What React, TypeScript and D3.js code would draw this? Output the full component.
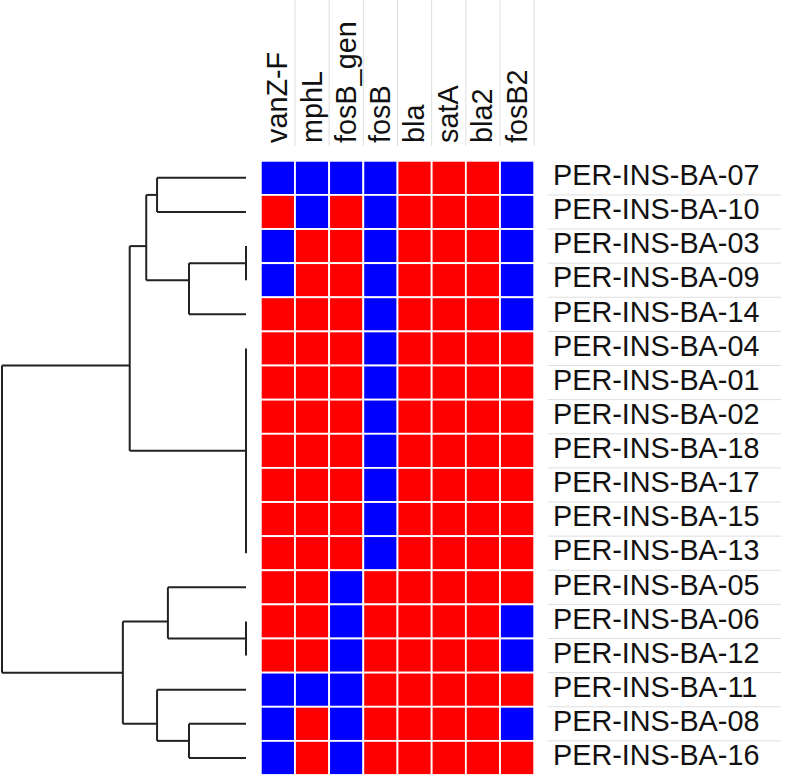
import React, { useEffect, useRef } from 'react';
import * as d3 from 'd3';

// Gene columns and isolate rows, in the plotted (clustered) order
const genes = ['vanZ-F', 'mphL', 'fosB_gen', 'fosB', 'bla', 'satA', 'bla2', 'fosB2'];

const isolates = [
  'PER-INS-BA-07', 'PER-INS-BA-10', 'PER-INS-BA-03', 'PER-INS-BA-09', 'PER-INS-BA-14',
  'PER-INS-BA-04', 'PER-INS-BA-01', 'PER-INS-BA-02', 'PER-INS-BA-18', 'PER-INS-BA-17',
  'PER-INS-BA-15', 'PER-INS-BA-13', 'PER-INS-BA-05', 'PER-INS-BA-06', 'PER-INS-BA-12',
  'PER-INS-BA-11', 'PER-INS-BA-08', 'PER-INS-BA-16',
];

// Presence (1) / absence (0) per isolate, one value per gene
const presence: number[][] = [
  [0, 0, 0, 0, 1, 1, 1, 0],
  [1, 0, 1, 0, 1, 1, 1, 0],
  [0, 1, 1, 0, 1, 1, 1, 0],
  [0, 1, 1, 0, 1, 1, 1, 0],
  [1, 1, 1, 0, 1, 1, 1, 0],
  [1, 1, 1, 0, 1, 1, 1, 1],
  [1, 1, 1, 0, 1, 1, 1, 1],
  [1, 1, 1, 0, 1, 1, 1, 1],
  [1, 1, 1, 0, 1, 1, 1, 1],
  [1, 1, 1, 0, 1, 1, 1, 1],
  [1, 1, 1, 0, 1, 1, 1, 1],
  [1, 1, 1, 0, 1, 1, 1, 1],
  [1, 1, 0, 1, 1, 1, 1, 1],
  [1, 1, 0, 1, 1, 1, 1, 0],
  [1, 1, 0, 1, 1, 1, 1, 0],
  [0, 0, 0, 1, 1, 1, 1, 1],
  [0, 1, 0, 1, 1, 1, 1, 0],
  [0, 1, 0, 1, 1, 1, 1, 1],
];

// Cluster merges: members are isolate labels or indices of earlier merges
const merges: (string | number)[][] = [
  ['PER-INS-BA-07', 'PER-INS-BA-10'],                       // 0
  ['PER-INS-BA-03', 'PER-INS-BA-09'],                       // 1
  [1, 'PER-INS-BA-14'],                                     // 2
  [0, 2],                                                   // 3
  ['PER-INS-BA-04', 'PER-INS-BA-01', 'PER-INS-BA-02', 'PER-INS-BA-18',
    'PER-INS-BA-17', 'PER-INS-BA-15', 'PER-INS-BA-13'],     // 4
  [3, 4],                                                   // 5
  ['PER-INS-BA-06', 'PER-INS-BA-12'],                       // 6
  ['PER-INS-BA-05', 6],                                     // 7
  ['PER-INS-BA-08', 'PER-INS-BA-16'],                       // 8
  ['PER-INS-BA-11', 8],                                     // 9
  [7, 9],                                                   // 10
  [5, 10],                                                  // 11
];
const mergeHeights = [1.56, 0, 1.0, 1.75, 0, 2.04, 0, 1.37, 1.0, 1.56, 2.16, 4.28];

const App: React.FC = () => {
  const svgRef = useRef<SVGSVGElement>(null);

  useEffect(() => {
    if (!svgRef.current) return;
    const svg = d3.select(svgRef.current);
    svg.selectAll('*').remove();

    const width = 787;
    const height = 778;
    svg.attr('width', width).attr('height', height);

    const font = "'Liberation Sans', Arial, sans-serif";

    const xScale = d3.scaleBand<string>().domain(genes).range([260.8, 534.2]);
    const yScale = d3.scaleBand<string>().domain(isolates).range([160.8, 775]);
    const hScale = d3.scaleLinear()
      .domain([0, d3.max(mergeHeights) || 1])
      .range([246, 2]);

    // Header guide lines between gene columns
    svg.append('g')
      .selectAll('line')
      .data(genes)
      .enter()
      .append('line')
      .attr('x1', d => (xScale(d) || 0) + xScale.bandwidth())
      .attr('x2', d => (xScale(d) || 0) + xScale.bandwidth())
      .attr('y1', 0)
      .attr('y2', 146)
      .attr('stroke', '#dedede')
      .attr('stroke-width', 1);

    // Row separators under the isolate labels
    svg.append('g')
      .selectAll('line')
      .data(isolates.slice(1))
      .enter()
      .append('line')
      .attr('x1', 548)
      .attr('x2', 781)
      .attr('y1', d => yScale(d) || 0)
      .attr('y2', d => yScale(d) || 0)
      .attr('stroke', '#dedede')
      .attr('stroke-width', 1);

    // Heatmap cells
    const cells = isolates.flatMap((iso, i) =>
      genes.map((g, j) => ({ iso, g, v: presence[i][j] }))
    );
    svg.append('g')
      .selectAll('rect')
      .data(cells)
      .enter()
      .append('rect')
      .attr('x', d => xScale(d.g) || 0)
      .attr('y', d => yScale(d.iso) || 0)
      .attr('width', xScale.bandwidth())
      .attr('height', yScale.bandwidth())
      .attr('fill', d => (d.v ? '#ff0000' : '#0000ff'))
      .attr('stroke', '#ffffff')
      .attr('stroke-width', 1.8);

    // Gene labels (rotated)
    svg.append('g')
      .selectAll('text')
      .data(genes)
      .enter()
      .append('text')
      .attr('transform', d =>
        `translate(${(xScale(d) || 0) + xScale.bandwidth() / 2},143) rotate(-90)`)
      .attr('dy', '0.33em')
      .style('font-family', font)
      .style('font-size', '28.8px')
      .style('fill', '#111')
      .text(d => d);

    // Isolate labels
    svg.append('g')
      .selectAll('text')
      .data(isolates)
      .enter()
      .append('text')
      .attr('x', 553)
      .attr('y', d => (yScale(d) || 0) + yScale.bandwidth() / 2)
      .attr('dy', '0.25em')
      .style('font-family', font)
      .style('font-size', '28.8px')
      .style('fill', '#111')
      .text(d => d);

    // Dendrogram: node y is the mean of its leaf rows
    type Pos = { x: number; y: number };
    const nodePos: Pos[] = [];
    const leafPos = (label: string): Pos => ({
      x: hScale(0),
      y: (yScale(label) || 0) + yScale.bandwidth() / 2,
    });
    const leafYs: number[][] = [];
    const dendro = svg.append('g')
      .attr('fill', 'none')
      .attr('stroke', '#222')
      .attr('stroke-width', 2);

    merges.forEach((members, k) => {
      const x = hScale(mergeHeights[k]);
      const kids = members.map(m => (typeof m === 'number' ? nodePos[m] : leafPos(m)));
      const ys = members.flatMap(m =>
        typeof m === 'number' ? leafYs[m] : [leafPos(m).y]
      );
      leafYs[k] = ys;
      nodePos[k] = { x, y: d3.mean(ys) || 0 };

      const [y0, y1] = d3.extent(kids, c => c.y) as [number, number];
      dendro.append('line')
        .attr('x1', x).attr('x2', x)
        .attr('y1', y0).attr('y2', y1);
      kids.forEach(c => {
        if (c.x === x) return;
        dendro.append('line')
          .attr('x1', x).attr('x2', c.x)
          .attr('y1', c.y).attr('y2', c.y);
      });
    });
  }, []);

  return (
    <div style={{ position: 'absolute', left: 0, top: 0 }}>
      <svg ref={svgRef} style={{ display: 'block', background: '#fff' }}></svg>
    </div>
  );
};

export default App;
